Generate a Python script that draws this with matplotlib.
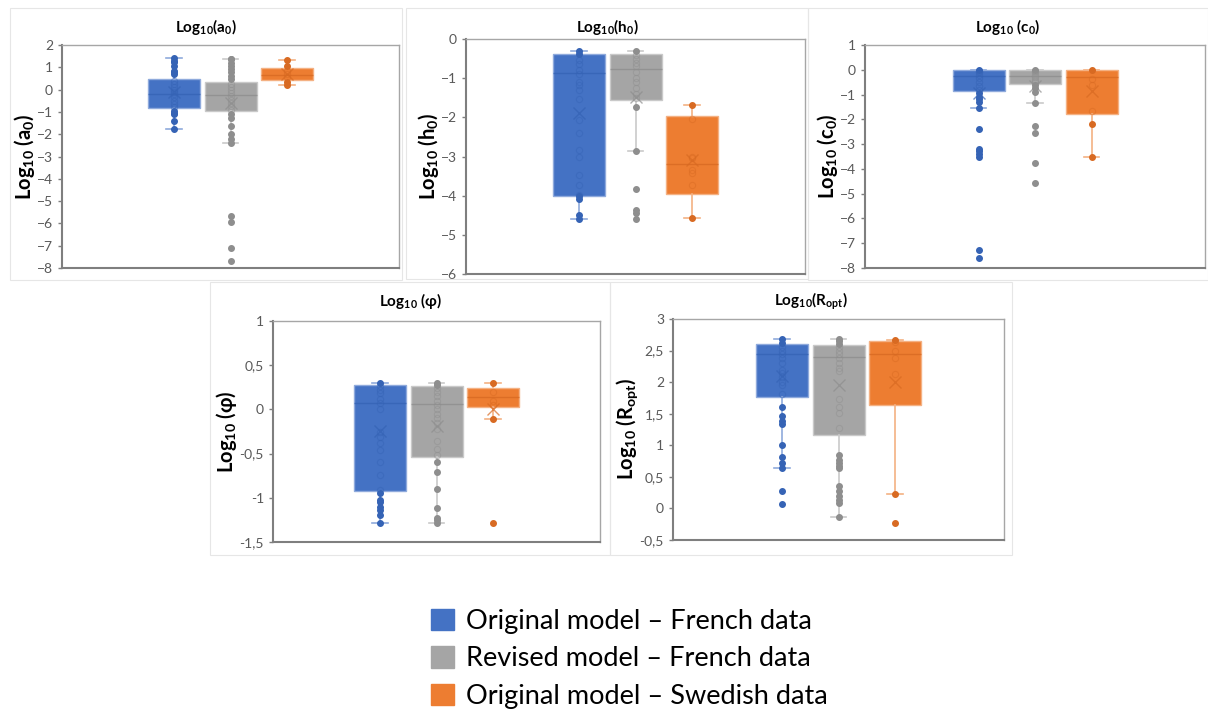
import numpy as np
import matplotlib
matplotlib.use("Agg")
import matplotlib.pyplot as plt
from matplotlib.patches import Patch, Rectangle
from matplotlib.ticker import FuncFormatter

plt.rcParams["font.family"] = ["Lato", "DejaVu Sans"]
plt.rcParams["mathtext.default"] = "regular"

SERIES = ["Original model – French data", "Revised model – French data", "Original model – Swedish data"]
BOX_COLORS = ["#4472C4", "#A5A5A5", "#ED7D31"]
DARK_COLORS = ["#3563B5", "#8E8E8E", "#D86A22"]
EDGE_COLORS = ["#8FAADC", "#C9C9C9", "#F4B183"]

# --- Log10(a0) ---
A0_ORIG_FR = [1.41, 1.29, 1.22, 1.07, 0.84, 0.77, 0.69, 0.40, 0.25, 0.10, 0.0, -0.10, -0.20,
              -0.35, -0.50, -0.65, -0.80, -0.96, -1.03, -1.11, -1.41, -1.75]
A0_REV_FR = [1.38, 1.36, 1.20, 1.07, 0.92, 0.77, 0.62, 0.47, 0.25, 0.10, 0.0, -0.15, -0.30,
             -0.45, -0.60, -0.75, -0.90, -1.11, -1.26, -1.63, -2.00, -2.23, -2.41,
             -5.66, -5.94, -7.10, -7.67]
A0_ORIG_SE = [1.34, 1.07, 0.85, 0.70, 0.55, 0.32, 0.21]
A0_Q1 = [-0.84, -0.96, 0.42]
A0_MED = [-0.18, -0.24, 0.66]
A0_Q3 = [0.47, 0.32, 0.96]
A0_LO = [-1.75, -2.41, 0.21]
A0_HI = [1.41, 1.38, 1.34]
A0_MEAN = [-0.10, -0.60, 0.72]

# --- Log10(h0) ---
H0_ORIG_FR = [-0.30, -0.38, -0.53, -0.65, -0.79, -0.89, -1.09, -1.17, -1.30, -1.52, -2.07,
              -2.41, -2.83, -3.02, -3.47, -3.73, -3.98, -4.02, -4.09, -4.49, -4.60]
H0_REV_FR = [-0.30, -0.40, -0.50, -0.60, -0.70, -0.85, -1.00, -1.10, -1.25, -1.40, -1.50,
             -1.74, -2.85, -3.82, -4.37, -4.45, -4.60]
H0_ORIG_SE = [-1.69, -2.05, -3.00, -3.05, -3.34, -3.43, -3.73, -4.56]
H0_Q1 = [-4.01, -1.57, -3.96]
H0_MED = [-0.86, -0.77, -3.18]
H0_Q3 = [-0.38, -0.38, -1.97]
H0_LO = [-4.60, -2.85, -4.56]
H0_HI = [-0.30, -0.30, -1.69]
H0_MEAN = [-1.90, -1.47, -3.10]

# --- Log10(c0) ---
C0_ORIG_FR = [0.0, -0.05, -0.10, -0.20, -0.35, -0.50, -0.65, -0.80, -0.95, -1.09, -1.19,
              -1.29, -1.56, -2.39, -3.18, -3.27, -3.38, -3.52, -7.26, -7.60]
C0_REV_FR = [0.0, -0.05, -0.10, -0.20, -0.30, -0.40, -0.50, -0.62, -0.75, -0.89, -1.33,
             -2.27, -2.54, -3.78, -4.55]
C0_ORIG_SE = [0.0, -0.39, -0.63, -1.66, -2.17, -3.51]
C0_Q1 = [-0.86, -0.58, -1.80]
C0_MED = [-0.25, -0.24, -0.31]
C0_Q3 = [0.0, 0.0, 0.0]
C0_LO = [-1.56, -1.33, -3.51]
C0_HI = [0.0, 0.0, 0.0]
C0_MEAN = [-0.95, -0.65, -0.86]

# --- Log10(phi) ---
PHI_ORIG_FR = [0.30, 0.26, 0.22, 0.18, 0.12, 0.07, 0.01, -0.26, -0.31, -0.38, -0.46, -0.60,
               -0.74, -0.91, -0.95, -1.02, -1.05, -1.10, -1.14, -1.19, -1.29]
PHI_REV_FR = [0.30, 0.28, 0.24, 0.20, 0.15, 0.10, 0.05, 0.0, -0.05, -0.10, -0.15, -0.22,
              -0.36, -0.45, -0.52, -0.60, -0.71, -0.90, -1.12, -1.23, -1.25, -1.29]
PHI_ORIG_SE = [0.30, 0.20, 0.10, 0.05, -0.11, -1.29]
PHI_Q1 = [-0.92, -0.54, 0.023]
PHI_MED = [0.07, 0.057, 0.14]
PHI_Q3 = [0.275, 0.26, 0.245]
PHI_LO = [-1.29, -1.29, -0.11]
PHI_HI = [0.30, 0.30, 0.30]
PHI_MEAN = [-0.24, -0.19, 0.0]

# --- Log10(Ropt) ---
ROPT_ORIG_FR = [2.69, 2.62, 2.55, 2.50, 2.45, 2.38, 2.30, 2.20, 2.15, 2.08, 2.00, 1.95, 1.82,
                1.61, 1.47, 1.38, 1.33, 1.00, 0.82, 0.72, 0.64, 0.28, 0.07]
ROPT_REV_FR = [2.69, 2.65, 2.60, 2.55, 2.50, 2.45, 2.38, 2.30, 2.22, 2.17, 1.74, 1.60, 1.51,
               1.27, 0.85, 0.77, 0.72, 0.67, 0.64, 0.36, 0.27, 0.19, 0.13, 0.09, -0.14]
ROPT_ORIG_SE = [2.66, 2.63, 2.50, 2.38, 2.13, 0.23, -0.23]
ROPT_Q1 = [1.76, 1.16, 1.64]
ROPT_MED = [2.45, 2.40, 2.45]
ROPT_Q3 = [2.60, 2.59, 2.645]
ROPT_LO = [0.64, -0.14, 0.23]
ROPT_HI = [2.69, 2.69, 2.66]
ROPT_MEAN = [2.10, 1.96, 2.00]

W, H = 1208, 709

# title, ylabel, points, stats, y range, tick step, decimal comma, axes box (px: left, top, right, bottom), panel frame (px)
PANELS = [
    ("Log$_{10}$(a$_0$)", "Log$_{10}$ (a$_0$)", [A0_ORIG_FR, A0_REV_FR, A0_ORIG_SE],
     (A0_Q1, A0_MED, A0_Q3, A0_LO, A0_HI, A0_MEAN), (-8, 2), 1, False,
     (62, 45, 399, 268), (10, 8, 402, 280)),
    ("Log$_{10}$(h$_0$)", "Log$_{10}$ (h$_0$)", [H0_ORIG_FR, H0_REV_FR, H0_ORIG_SE],
     (H0_Q1, H0_MED, H0_Q3, H0_LO, H0_HI, H0_MEAN), (-6, 0), 1, False,
     (466, 39, 805, 274), (406, 8, 808, 279)),
    ("Log$_{10}$ (c$_0$)", "Log$_{10}$ (c$_0$)", [C0_ORIG_FR, C0_REV_FR, C0_ORIG_SE],
     (C0_Q1, C0_MED, C0_Q3, C0_LO, C0_HI, C0_MEAN), (-8, 1), 1, False,
     (865, 45, 1205, 268), (808, 8, 1208, 280)),
    ("Log$_{10}$ ($\\varphi$)", "Log$_{10}$ ($\\varphi$)", [PHI_ORIG_FR, PHI_REV_FR, PHI_ORIG_SE],
     (PHI_Q1, PHI_MED, PHI_Q3, PHI_LO, PHI_HI, PHI_MEAN), (-1.5, 1), 0.5, True,
     (273, 321, 600, 542), (210, 282, 610, 555)),
    ("Log$_{10}$(R$_{opt}$)", "Log$_{10}$ (R$_{opt}$)", [ROPT_ORIG_FR, ROPT_REV_FR, ROPT_ORIG_SE],
     (ROPT_Q1, ROPT_MED, ROPT_Q3, ROPT_LO, ROPT_HI, ROPT_MEAN), (-0.5, 3), 0.5, True,
     (673, 319, 1004, 540), (610, 282, 1012, 555)),
]

SPACING_PX = 56.5
BOX_PX = 52

fig = plt.figure(figsize=(W / 100, H / 100), dpi=100)

for title, ylabel, points, stats, yr, step, comma, (l, t, r, b), (fl, ft, fr, fb) in PANELS:
    fig.patches.append(Rectangle((fl / W, 1 - fb / H), (fr - fl) / W, (fb - ft) / H,
                                 transform=fig.transFigure, fill=False,
                                 edgecolor="#E6E6E6", lw=0.8, zorder=0))
    ax = fig.add_axes([l / W, 1 - b / H, (r - l) / W, (b - t) / H])
    q1s, meds, q3s, los, his, means = stats
    bstats = [dict(q1=q1s[i], med=meds[i], q3=q3s[i], whislo=los[i], whishi=his[i],
                   mean=means[i], fliers=[]) for i in range(3)]
    pos = [1, 2, 3]
    bp = ax.bxp(bstats, positions=pos, widths=BOX_PX / SPACING_PX, patch_artist=True,
                showmeans=True, showfliers=False, capwidths=0.28, zorder=2)
    for i in range(3):
        bp["boxes"][i].set(facecolor=BOX_COLORS[i], edgecolor=EDGE_COLORS[i], lw=1.0)
        bp["medians"][i].set(color=DARK_COLORS[i], lw=1.0, alpha=0.8)
        for k in (2 * i, 2 * i + 1):
            bp["whiskers"][k].set(color=EDGE_COLORS[i], lw=1.2)
            bp["caps"][k].set(color=EDGE_COLORS[i], lw=1.2)
        bp["means"][i].set(marker="x", markeredgecolor=DARK_COLORS[i], markersize=8,
                           markeredgewidth=1.0, alpha=0.7, zorder=4)
        pts = np.array(points[i])
        inside = (pts > q1s[i]) & (pts < q3s[i])
        ax.plot(np.full(inside.sum(), pos[i]), pts[inside], "o", ms=4.5,
                mfc="none", mec=DARK_COLORS[i], mew=0.8, alpha=0.45, zorder=3)
        ax.plot(np.full((~inside).sum(), pos[i]), pts[~inside], "o", ms=4,
                color=DARK_COLORS[i], zorder=3)

    half = (r - l) / 2 / SPACING_PX
    ax.set_xlim(2 - half, 2 + half)
    ax.set_ylim(*yr)
    ax.set_yticks(np.arange(yr[0], yr[1] + step / 2, step))
    if comma:
        ax.yaxis.set_major_formatter(FuncFormatter(lambda v, p: f"{v:g}".replace(".", ",")))
    ax.set_xticks([])
    ax.tick_params(axis="y", labelsize=10, labelcolor="#595959", color="#7F7F7F",
                   length=3, width=1)
    for s in ax.spines.values():
        s.set_color("#A6A6A6")
        s.set_linewidth(1.0)
    ax.spines["left"].set_color("#7F7F7F")
    ax.spines["bottom"].set_color("#7F7F7F")
    ax.spines["left"].set_linewidth(1.5)
    ax.spines["bottom"].set_linewidth(1.5)
    ax.set_ylabel(ylabel, fontsize=14.5, fontweight="bold", labelpad=0)
    fig.text(((fl + fr) / 2) / W, 1 - (ft + 19) / H, title, ha="center", va="center",
             fontsize=11, fontweight="bold")

handles = [Patch(facecolor=c, edgecolor=c) for c in BOX_COLORS]
fig.legend(handles, SERIES, loc="upper left", bbox_to_anchor=(420 / W, 1 - 598 / H),
           frameon=False, fontsize=19.5, handlelength=0.85, handleheight=0.85,
           handletextpad=0.45, labelspacing=0.45, borderaxespad=0)

fig.savefig("out.png", dpi=100)
